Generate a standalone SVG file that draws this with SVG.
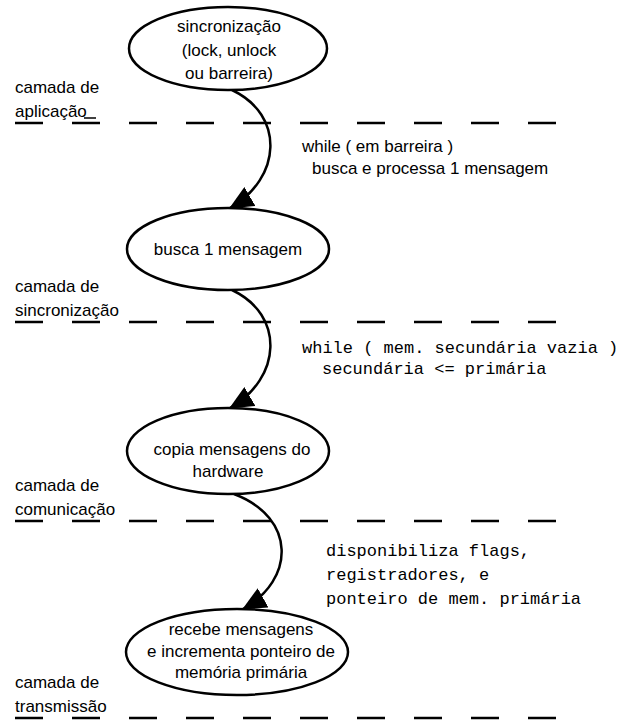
<svg xmlns="http://www.w3.org/2000/svg" width="622" height="725" viewBox="0 0 622 725">
  <style>
    .bg { fill: #ffffff; }
    .node ellipse { fill: #ffffff; stroke: #000000; stroke-width: 2.5; }
    .lbl { font-family: "Liberation Sans", Arial, sans-serif; font-size: 17px; fill: #000000; }
    .mid { text-anchor: middle; }
    .code { font-family: "Liberation Mono", "Courier New", monospace; font-size: 17px; fill: #000000; }
    .layer { stroke: #000000; stroke-width: 2.6; stroke-dasharray: 28 29; fill: none; }
    .edge { stroke: #000000; stroke-width: 2.5; fill: none; marker-end: url(#head); }
  </style>
  <defs>
    <marker id="head" markerUnits="userSpaceOnUse" viewBox="0 0 24 22" markerWidth="24" markerHeight="22" refX="23" refY="11" orient="auto">
      <path d="M0,0 L24,11 L0,22 z" fill="#000000"/>
    </marker>
  </defs>
  <rect class="bg" x="0" y="0" width="622" height="725"/>

  <!-- layer boundaries -->
  <g id="layers">
    <line class="layer" x1="15" y1="123" x2="560" y2="123"/>
    <line class="layer" x1="15" y1="322" x2="560" y2="322"/>
    <line class="layer" x1="15" y1="521" x2="560" y2="521"/>
    <line class="layer" x1="15" y1="718" x2="560" y2="718"/>
    <line x1="84" y1="118" x2="96" y2="118" stroke="#000000" stroke-width="1.5"/>
  </g>

  <!-- layer names -->
  <g id="layer-names">
    <text class="lbl" x="15" y="93">camada de</text>
    <text class="lbl" x="15" y="117">aplicação</text>
    <text class="lbl" x="15" y="292">camada de</text>
    <text class="lbl" x="15" y="316">sincronização</text>
    <text class="lbl" x="15" y="491">camada de</text>
    <text class="lbl" x="15" y="515">comunicação</text>
    <text class="lbl" x="15" y="688">camada de</text>
    <text class="lbl" x="15" y="712">transmissão</text>
  </g>

  <!-- connectors -->
  <g id="connectors">
    <path class="edge" d="M232,90 C285,115 282,178 230,208"/>
    <path class="edge" d="M232,290 C285,315 282,378 230,408"/>
    <path class="edge" d="M234,494 C297,518 295,580 243,609"/>
  </g>

  <!-- connector labels -->
  <g id="edge-labels">
    <text class="lbl" x="302" y="152">while ( em barreira )</text>
    <text class="lbl" x="312" y="174">busca e processa 1 mensagem</text>
    <text class="code" x="302" y="353">while ( mem. secundária vazia )</text>
    <text class="code" x="322" y="374">secundária &lt;= primária</text>
    <text class="code" x="326" y="556">disponibiliza flags,</text>
    <text class="code" x="326" y="580">registradores, e</text>
    <text class="code" x="326" y="604">ponteiro de mem. primária</text>
  </g>

  <g id="sync-primitives" class="node">
    <ellipse cx="228" cy="48.5" rx="99" ry="41.5"/>
    <text class="lbl mid" x="229" y="32">sincronização</text>
    <text class="lbl mid" x="229" y="56">(lock, unlock</text>
    <text class="lbl mid" x="229" y="79">ou barreira)</text>
  </g>

  <g id="fetch-message" class="node">
    <ellipse cx="228" cy="249" rx="101" ry="41"/>
    <text class="lbl mid" x="228" y="255">busca 1 mensagem</text>
  </g>

  <g id="copy-hardware" class="node">
    <ellipse cx="228" cy="451" rx="101" ry="43"/>
    <text class="lbl mid" x="232" y="455">copia mensagens do</text>
    <text class="lbl mid" x="228" y="477">hardware</text>
  </g>

  <g id="receive-messages" class="node">
    <ellipse cx="237" cy="652" rx="111" ry="43"/>
    <text class="lbl mid" x="241" y="635">recebe mensagens</text>
    <text class="lbl mid" x="241" y="657">e incrementa ponteiro de</text>
    <text class="lbl mid" x="241" y="678">memória primária</text>
  </g>
</svg>
